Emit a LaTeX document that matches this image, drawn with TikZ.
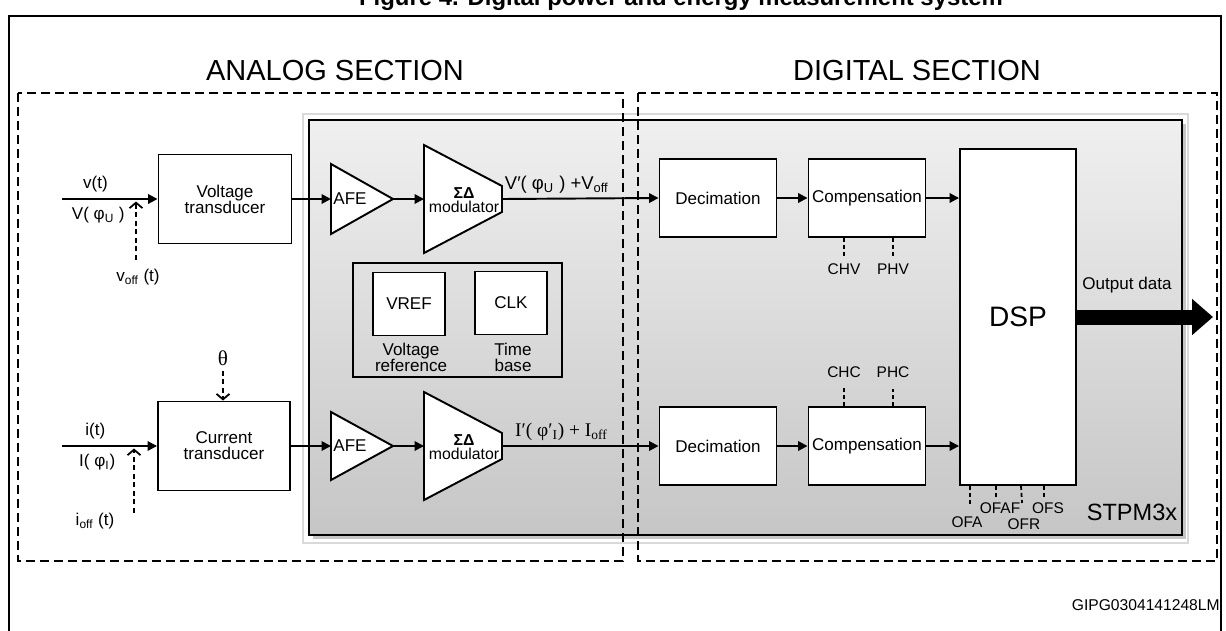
\documentclass[tikz,border=0pt]{standalone}
\usepackage{fontspec}
\setmainfont{Liberation Sans}
\newfontfamily\timesfont{Liberation Serif}
\usetikzlibrary{arrows.meta}

\begin{document}
\begin{tikzpicture}[x=0.2mm,y=-0.2mm,
    blk/.style={draw, line width=1.1pt, fill=white, align=center, inner sep=0pt, font=\fontsize{9.7}{9.2}\selectfont},
    txt/.style={inner sep=0pt, align=center, font=\fontsize{9.7}{9.2}\selectfont},
    lbl/.style={inner sep=0pt, font=\fontsize{8.8}{9}\selectfont},
    sect/.style={inner sep=0pt, font=\fontsize{16.5}{17}\selectfont},
    amp/.style={draw, line width=1.1pt, fill=white, line join=miter},
    arr/.style={line width=1.1pt, -{Triangle[length=1.9mm,width=1.9mm]}},
    darr/.style={line width=1pt, dash pattern=on 1mm off 0.7mm, -{Straight Barb[length=1.1mm,width=2.6mm,line width=1pt]}},
    tick/.style={line width=1pt, dash pattern=on 0.8mm off 0.6mm},
    secbox/.style={line width=1.4pt, dash pattern=on 1.8mm off 1mm}]
\useasboundingbox (0,0) rectangle (1226,630);

% caption, frame
\node[anchor=base, inner sep=0pt, font=\bfseries\fontsize{13.6}{14}\selectfont] (caption) at (681,5) {Figure 4. Digital power and energy measurement system};
\draw[line width=1.1pt] (9,640) -- (9,16) -- (1221,16) -- (1221,640);

% chip
\draw[gray!30, fill=white, line width=0.6pt] (303,114) rectangle (1188,543);
\fill[gray!45] (313,124) rectangle (1186,539);
\shade[top color=gray!12, bottom color=gray!45, draw=black, line width=1.1pt] (309,120) rectangle (1182,535);
\node[inner sep=0pt, font=\fontsize{13.4}{14}\selectfont] (chip) at (1132,512) {STPM3x};

% sections
\draw[secbox] (18,93) rectangle (623,561);
\draw[secbox] (638,93) rectangle (1217,561);
\node[sect] (analog) at (335,71) {ANALOG SECTION};
\node[sect] (digital) at (917,71) {DIGITAL SECTION};

% voltage channel
\coordinate (vin) at (62,199);
\coordinate (vjoin) at (136,199);
\coordinate (afeVin) at (331,199);
\coordinate (afeVout) at (393,199);
\coordinate (modVin) at (424,199);
\coordinate (modVout) at (502,199);
\node[blk, minimum width=26.6mm, minimum height=17.8mm] (vtrans) at (225,199) {Voltage\\transducer};
\draw[amp] (331,164) -- (afeVout) -- (331,234) -- cycle;
\node[txt] (afeV) at (350,199) {AFE};
\draw[amp] (424,145) -- (502,186) -- (502,212) -- (424,253) -- cycle;
\node[txt, font=\fontsize{9}{8}\selectfont] (modV) at (464,200) {\textbf{ΣΔ}\\modulator};
\node[blk, minimum width=23.4mm, minimum height=15.6mm] (decV) at (718,198) {Decimation};
\node[blk, minimum width=23.4mm, minimum height=15.6mm] (compV) at (867,198) {Compensation};

\draw[arr] (vin) -- (vtrans.west)
    node[pos=.35, above=1.2mm, txt] (vt) {v(t)}
    node[pos=.38, below=1.5mm, txt] (vphi) {V( φ\textsubscript{U} )};
\node[txt] (voff) at (138,277) {v\textsubscript{off} (t)};
\draw[darr, shorten <=1.8mm, shorten >=0.5mm] (voff.north -| vjoin) -- (vjoin);
\draw[arr] (vtrans.east) -- (afeVin);
\draw[arr] (afeVout) -- (modVin);
\draw[arr] (modVout) -- (decV.west)
    node[pos=.35, above=0.8mm, inner sep=0pt, font=\fontsize{10.5}{11}\selectfont] (vout) {V′( φ\textsubscript{U} ) +V\textsubscript{off}};
\draw[arr] (decV.east) -- (compV.west);

\node[lbl] (chv) at (844,269) {CHV};
\node[lbl] (phv) at (893,269) {PHV};
\draw[tick] (chv.north |- compV.south) -- ++(0,20);
\draw[tick] (phv.north |- compV.south) -- ++(0,20);

% references
\draw[line width=1.1pt] (353,263) rectangle (562,377);
\node[blk, minimum width=14.4mm, minimum height=12.6mm] (vref) at (409,304) {VREF};
\node[blk, minimum width=14.4mm, minimum height=12.6mm] (clk) at (511,303) {CLK};
\node[txt] (vreflbl) at (411,357) {Voltage\\reference};
\node[txt] (clklbl) at (513,357) {Time\\base};

% current channel
\coordinate (iin) at (62,446);
\coordinate (ijoin) at (134,446);
\coordinate (afeIin) at (331,446);
\coordinate (afeIout) at (393,446);
\coordinate (modIin) at (424,446);
\coordinate (modIout) at (502,446);
\node[blk, minimum width=26.4mm, minimum height=17.8mm] (itrans) at (224,446) {Current\\transducer};
\draw[amp] (331,412) -- (afeIout) -- (331,480) -- cycle;
\node[txt] (afeI) at (350,446) {AFE};
\draw[amp] (424,392) -- (502,433) -- (502,459) -- (424,500) -- cycle;
\node[txt, font=\fontsize{9}{8}\selectfont] (modI) at (464,447) {\textbf{ΣΔ}\\modulator};
\node[blk, minimum width=23.4mm, minimum height=15.6mm] (decI) at (718,446) {Decimation};
\node[blk, minimum width=23.4mm, minimum height=15.6mm] (compI) at (867,446) {Compensation};

\node[txt, font=\timesfont\fontsize{12}{12}\selectfont] (theta) at (223,358) {θ};
\draw[darr, shorten <=1mm] (theta.south) -- (theta.south |- itrans.north);
\draw[arr] (iin) -- (itrans.west)
    node[pos=.35, above=1.2mm, txt] (it) {i(t)}
    node[pos=.37, below=1.5mm, txt] (iphi) {I( φ\textsubscript{I})};
\node[txt] (ioff) at (95,521) {i\textsubscript{off} (t)};
\draw[darr, shorten >=0.5mm] (ioff.north -| ijoin) -- (ijoin);
\draw[arr] (itrans.east) -- (afeIin);
\draw[arr] (afeIout) -- (modIin);
\draw[arr] (modIout) -- (decI.west)
    node[pos=.38, above=0.8mm, inner sep=0pt, font=\timesfont\fontsize{11}{11}\selectfont] (iout) {I′( φ′\textsubscript{I}) + I\textsubscript{off}};
\draw[arr] (decI.east) -- (compI.west);

\node[lbl] (chc) at (844,372) {CHC};
\node[lbl] (phc) at (893,372) {PHC};
\draw[tick] (chc.south |- compI.north) -- ++(0,-19);
\draw[tick] (phc.south |- compI.north) -- ++(0,-17);

% DSP
\node[blk, minimum width=23.2mm, minimum height=67.2mm, font=\fontsize{16}{16}\selectfont] (dsp) at (1018,317) {DSP};
\draw[arr] (compV.east) -- (compV.east -| dsp.west);
\draw[arr] (compI.east) -- (compI.east -| dsp.west);

\coordinate (outEnd) at (1213,317);
\draw[line width=3mm, -{Triangle[length=4.2mm,width=7mm]}] (dsp.east) -- (outEnd);
\node[txt] (outlbl) at (1127,285) {Output data};

\node[lbl] (ofa) at (967,522) {OFA};
\node[lbl] (ofaf) at (1000,508) {OFAF};
\node[lbl] (ofr) at (1024,524) {OFR};
\node[lbl] (ofs) at (1048,508) {OFS};
\draw[tick] ([xshift=0.6mm]ofa.north |- dsp.south) -- ++(0,21);
\draw[tick] ([xshift=-0.8mm]ofaf.north |- dsp.south) -- ++(0,12);
\draw[tick] ([xshift=-0.6mm]ofr.north |- dsp.south) -- ++(1,17);
\draw[tick] ([xshift=-0.8mm]ofs.north |- dsp.south) -- ++(0,12);

\node[lbl, anchor=east, font=\fontsize{8.9}{9}\selectfont] (code) at (1220,605) {GIPG0304141248LM};
\end{tikzpicture}
\end{document}
